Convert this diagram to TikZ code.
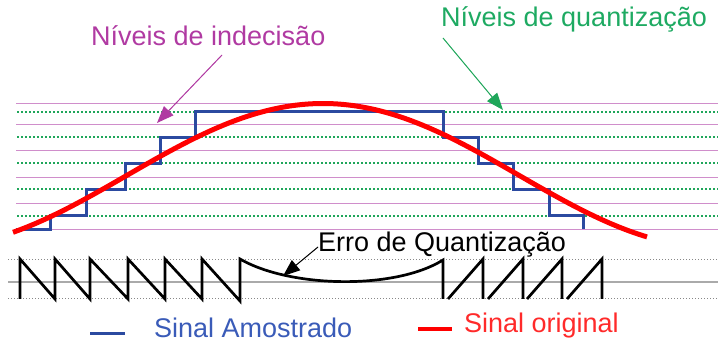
\documentclass[tikz,border=0pt]{standalone}
\usepackage{fontspec}
\setmainfont{Liberation Sans}
\usetikzlibrary{arrows.meta}
\definecolor{magtext}{HTML}{B03AA2}
\definecolor{magline}{HTML}{D08ECB}
\definecolor{grnline}{HTML}{1FA65A}
\definecolor{grntext}{HTML}{1EAA62}
\definecolor{sigblue}{HTML}{2B4AA0}
\definecolor{bluetext}{HTML}{3A5BB8}
\definecolor{sigred}{HTML}{FF0000}
\definecolor{redtext}{HTML}{FF2A2A}
\definecolor{midgray}{HTML}{AAAAAA}
\definecolor{dotgray}{HTML}{888888}
\tikzset{
  lbl/.style={font=\fontsize{27}{32}\selectfont, inner sep=0pt, anchor=base west},
  decline/.style={draw=magline, line width=1.3pt},
  qline/.style={draw=grnline, line width=1.6pt, dash pattern=on 1.6pt off 2.4pt},
  bline/.style={draw=dotgray, line width=0.9pt, dash pattern=on 0.9pt off 2.1pt},
  mline/.style={draw=midgray, line width=1.8pt},
  blues/.style={draw=sigblue, line width=3pt},
  reds/.style={draw=sigred, line width=5pt},
  errs/.style={draw=black, line width=2.7pt},
  arr/.style={line width=1pt, -{Triangle[length=17pt,width=13pt]}},
}
\begin{document}
\begin{tikzpicture}[x=1pt,y=-1pt]
\useasboundingbox (0,0) rectangle (718,347);
% decision levels
\foreach \yy in {103.3,124.7,150.7,177.3,203.3,229.3}
  \draw[decline] (16,\yy) -- (718,\yy);
% quantization levels
\foreach \yy in {112,137.3,163.3,189.3,216}
  \draw[qline] (17,\yy) -- (718,\yy);
% sampled signal
\draw[blues] (16,229.3) -- (50,229.3) -- (50,216) -- (86,216) -- (86,189.3) -- (125,189.3)
  -- (125,163.3) -- (160,163.3) -- (160,137.3) -- (195,137.3) -- (195,112) -- (443,112)
  -- (443,137.3) -- (478,137.3) -- (478,163.3) -- (513,163.3) -- (513,189.3) -- (549,189.3)
  -- (549,216) -- (583,216) -- (583,229.3);
% original signal
\draw[reds] plot[domain=13:647, samples=120, smooth] (\x, {175.5-72*cos(0.4584*(\x-323))});
% error axes
\draw[bline] (8,259.5) -- (718,259.5);
\draw[bline] (8,298) -- (718,298);
\draw[mline] (8,281.7) -- (718,281.7);
% error waveform
\draw[errs] (20,299) -- (20,259) -- (55,299) -- (55,259) -- (90,299) -- (90,259) -- (128,299)
  -- (128,259) -- (165,299) -- (165,259) -- (202,299) -- (202,259) -- (240,301) -- (240,259)
  .. controls (290,288) and (395,290) .. (443,260) -- (443,299);
\draw[errs] (448,299) -- (483,259) -- (483,299);
\draw[errs] (488,299) -- (523,259) -- (523,299);
\draw[errs] (527,299) -- (562,259) -- (562,299);
\draw[errs] (567,299) -- (602,259) -- (602,299);
% labels
\node[lbl, text=magtext] (indec) at (91,46) {Níveis de indecisão};
\node[lbl, text=grntext] (quant) at (441,27) {Níveis de quantização};
\node[lbl, text=black] (erro) at (318,252) {Erro de Quantização};
\node[lbl, text=bluetext] (amost) at (154,338) {Sinal Amostrado};
\node[lbl, text=redtext] (orig) at (464,333) {Sinal original};
% arrows
\coordinate (indS) at (222,55);
\coordinate (indT) at (157,123);
\coordinate (quaS) at (443,38);
\coordinate (quaT) at (503,110);
\coordinate (errS) at (318,247);
\coordinate (errT) at (283,276);
\draw[arr, draw=magtext, fill=magtext] (indS) -- (indT);
\draw[arr, draw=grnline, fill=grnline] (quaS) -- (quaT);
\draw[arr, draw=black, fill=black] (errS) -- (errT);
% legend
\coordinate (lbA) at (90,334);
\coordinate (lbB) at (125,334);
\coordinate (lrA) at (418,329);
\coordinate (lrB) at (452,329);
\draw[draw=sigblue, line width=3pt] (lbA) -- (lbB);
\draw[draw=sigred, line width=4pt] (lrA) -- (lrB);
\end{tikzpicture}
\end{document}
